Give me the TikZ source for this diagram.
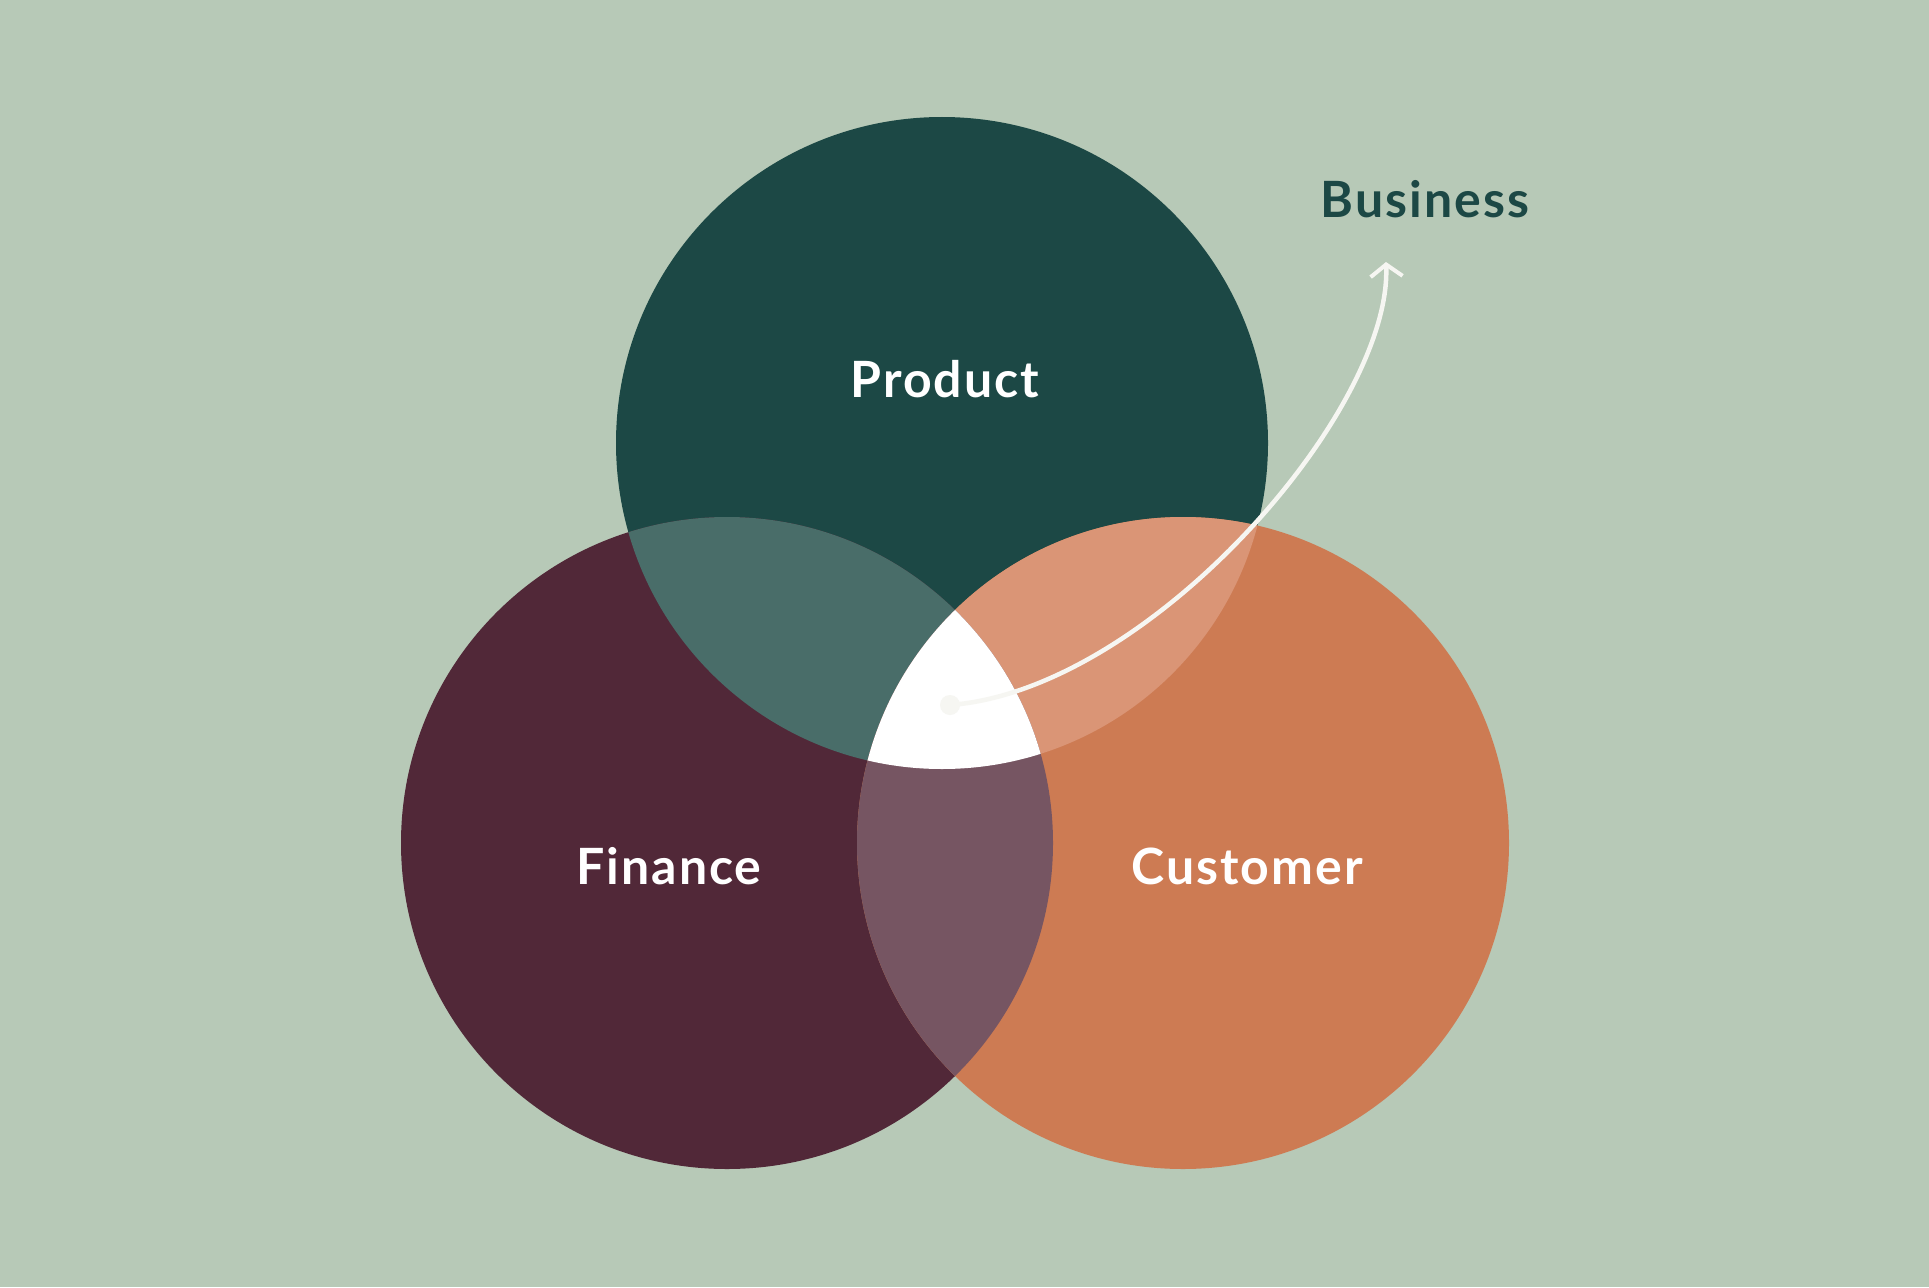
\documentclass[tikz,border=0pt]{standalone}
\usepackage{fontspec}
\setmainfont{Lato}
\usetikzlibrary{arrows.meta}
\definecolor{bg}{HTML}{B7C9B7}
\definecolor{prod}{HTML}{1C4845}
\definecolor{fin}{HTML}{512838}
\definecolor{cust}{HTML}{CD7B53}
\definecolor{pf}{HTML}{496D69}
\definecolor{pc}{HTML}{DA9576}
\definecolor{fc}{HTML}{765562}
\definecolor{linec}{HTML}{F6F6F2}
\tikzset{
  lbl/.style={text=white, font=\bfseries\fontsize{50}{60}\selectfont\addfontfeatures{LetterSpace=4}, inner sep=0pt},
  biz/.style={text=prod, font=\bfseries\fontsize{50}{60}\selectfont\addfontfeatures{LetterSpace=4}, inner sep=0pt},
}
\begin{document}
\begin{tikzpicture}[x=1pt,y=-1pt]
\fill[bg] (0,0) rectangle (1929,1287);
\useasboundingbox (0,0) rectangle (1929,1287);
\def\R{326}
\coordinate (P) at (942,443);
\coordinate (F) at (727,843);
\coordinate (C) at (1183,843);
\fill[prod] (P) circle (\R);
\fill[fin] (F) circle (\R);
\fill[cust] (C) circle (\R);
\begin{scope}
  \clip (P) circle (\R);
  \fill[pf] (F) circle (\R);
  \fill[pc] (C) circle (\R);
\end{scope}
\begin{scope}
  \clip (F) circle (\R);
  \fill[fc] (C) circle (\R);
  \clip (C) circle (\R);
  \fill[white] (P) circle (\R);
\end{scope}
\node[lbl] (tp) at (945,379) {Product};
\node[lbl] (tf) at (669,866) {Finance};
\node[lbl] (tc) at (1247,866) {Customer};
\node[biz] (tb) at (1425,199) {Business};
\coordinate (s) at (950,705);
\coordinate (e) at (1386,262);
\fill[linec] (s) circle (10);
\draw[linec, line width=4.5pt, -{Straight Barb[length=12pt,width=32pt,line width=4pt]}]
  (s) .. controls (1150,690) and (1392,410) .. (e);
\end{tikzpicture}
\end{document}
